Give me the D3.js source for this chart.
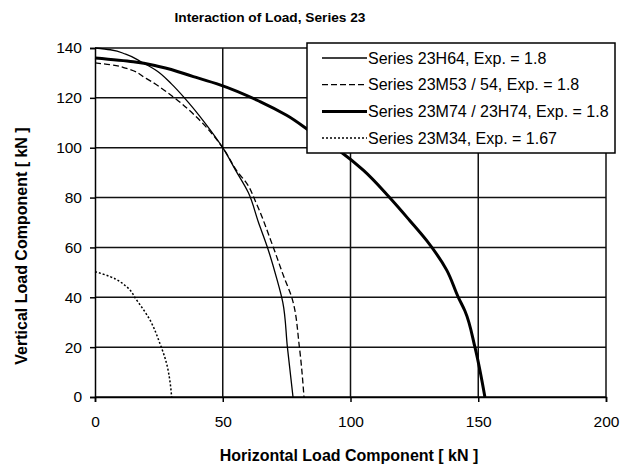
<!DOCTYPE html>
<html>
<head>
<meta charset="utf-8">
<script src="https://cdnjs.cloudflare.com/ajax/libs/d3/7.8.5/d3.min.js"></script>
<style>
  body { margin: 0; background: #fff; }
  text { font-family: "Liberation Sans", Arial, sans-serif; fill: #000; }
</style>
</head>
<body>
<script>
var margin = { top: 48, right: 19, bottom: 67, left: 95 },
    width = 625 - margin.left - margin.right,
    height = 464 - margin.top - margin.bottom

// data: [horizontal kN, vertical kN]
var seriesNames = [
    'Series 23H64, Exp. = 1.8',
    'Series 23M53 / 54, Exp. = 1.8',
    'Series 23M74 / 23H74, Exp. = 1.8',
    'Series 23M34, Exp. = 1.67'
]
var h64 = [[0, 140], [6, 139.3], [12, 137.5], [18, 134.5], [24, 131], [30, 125.5], [35, 120], [43, 110], [50, 100], [55, 91], [60, 82], [64, 70], [67.5, 60], [71, 48], [73.5, 38], [75.3, 20], [77.5, 0]]
var m53 = [[0, 134], [6, 133.3], [12.4, 131.8], [20, 127.8], [30.6, 120.4], [41, 111], [50, 100], [56, 90], [59.4, 85.7], [63, 78], [69.8, 60], [74, 48], [77, 40], [80, 20], [81.8, 0]]
var m74 = [[0, 136], [15, 134.5], [25.4, 132.5], [38.5, 128.5], [48.9, 125.2], [64.6, 118.5], [75, 113], [85, 106], [96, 98.5], [105, 91], [115.3, 80], [123, 71], [130, 62.5], [137.6, 51], [142.2, 40], [144.8, 34.5], [148.7, 20], [152.6, 0]]
var m34 = [[0, 50.3], [5.9, 48.3], [12.4, 44.2], [16.3, 38.9], [21.5, 30.9], [25.4, 21.5], [28, 13.5], [29.5, 5], [30, 0]]
var xTicks = [0, 50, 100, 150, 200]
var yTicks = [0, 20, 40, 60, 80, 100, 120, 140]

var styles = [
    { w: 1.3, dash: null },
    { w: 1.3, dash: '6,3' },
    { w: 3, dash: null },
    { w: 1.5, dash: '2,2' }
]

var x = d3.scaleLinear().domain([0, 200]).range([0, width])
var y = d3.scaleLinear().domain([0, 140]).range([height, 0])

var svg = d3.select('body').append('svg')
    .attr('width', 625)
    .attr('height', 464)

var g = svg.append('g')
    .attr('transform', 'translate(' + margin.left + ',' + margin.top + ')')

// grid
g.selectAll('.hgrid').data(yTicks).enter().append('line')
    .attr('x1', 0).attr('x2', width)
    .attr('y1', d => y(d)).attr('y2', d => y(d))
    .attr('stroke', '#111').attr('stroke-width', 1.5)
g.selectAll('.vgrid').data(xTicks.slice(1)).enter().append('line')
    .attr('x1', d => x(d)).attr('x2', d => x(d))
    .attr('y1', 0).attr('y2', height)
    .attr('stroke', '#111').attr('stroke-width', 1.5)

// axes
var xAxis = g.append('g')
    .attr('transform', 'translate(0,' + height + ')')
    .call(d3.axisBottom(x).tickValues(xTicks).tickSize(5).tickPadding(14))
var yAxis = g.append('g')
    .call(d3.axisLeft(y).tickValues(yTicks).tickSize(5).tickPadding(8))
;[xAxis, yAxis].forEach(a => {
    a.select('.domain').attr('stroke', '#000').attr('stroke-width', 1.5)
    a.selectAll('.tick line').attr('stroke', '#000').attr('stroke-width', 1.5)
    a.selectAll('text').style('font-size', '15.5px')
        .style('font-family', '"Liberation Sans", Arial, sans-serif')
})

// lines
var line = d3.line().x(d => x(d[0])).y(d => y(d[1])).curve(d3.curveMonotoneY)
var allSeries = [h64, m53, m74, m34]
allSeries.forEach((s, i) => {
    g.append('path')
        .datum(s)
        .attr('fill', 'none')
        .attr('stroke', '#000')
        .attr('stroke-width', styles[i].w)
        .attr('stroke-dasharray', styles[i].dash)
        .attr('d', line)
})

// legend
var lg = svg.append('g').attr('transform', 'translate(307,43)')
lg.append('rect')
    .attr('width', 308).attr('height', 110)
    .attr('fill', '#fff').attr('stroke', '#000').attr('stroke-width', 1.5)
seriesNames.forEach((name, i) => {
    var yy = 15 + i * 26.7
    lg.append('line')
        .attr('x1', 15).attr('x2', 60)
        .attr('y1', yy).attr('y2', yy)
        .attr('stroke', '#000')
        .attr('stroke-width', styles[i].w)
        .attr('stroke-dasharray', styles[i].dash)
    lg.append('text')
        .attr('x', 61).attr('y', yy + 5.5)
        .style('font-size', '16px')
        .text(name)
})

// titles
svg.append('text')
    .attr('x', 270).attr('y', 22)
    .attr('text-anchor', 'middle')
    .style('font-size', '13.7px').style('font-weight', 'bold')
    .text('Interaction of Load,  Series 23')
svg.append('text')
    .attr('x', 349).attr('y', 461)
    .attr('text-anchor', 'middle')
    .style('font-size', '16px').style('font-weight', 'bold')
    .text('Horizontal Load Component [ kN ]')
svg.append('text')
    .attr('transform', 'translate(27,246) rotate(-90)')
    .attr('text-anchor', 'middle')
    .style('font-size', '16px').style('font-weight', 'bold')
    .text('Vertical Load Component [ kN ]')
</script>
</body>
</html>
